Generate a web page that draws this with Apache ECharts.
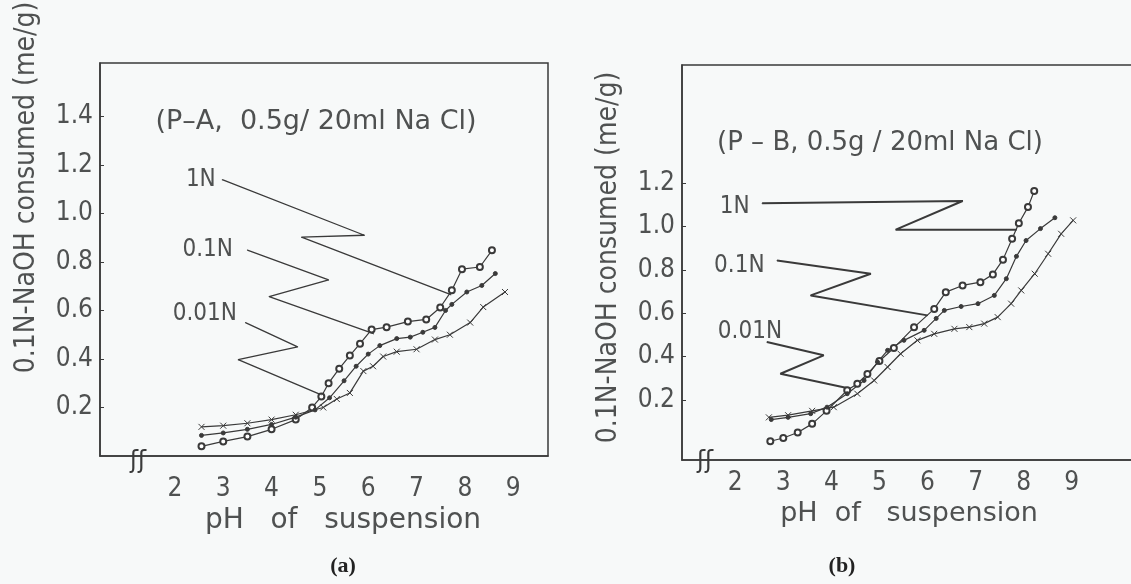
<!DOCTYPE html>
<html>
<head>
<meta charset="utf-8">
<script src="https://cdn.jsdelivr.net/npm/echarts@6/dist/echarts.min.js"></script>
<style>
    html, body { margin: 0; padding: 0; background: #f7f9f9; }
    #chart { width: 1131px; height: 584px; }
</style>
</head>
<body>
<div id="chart"></div>
<script>
// tick labels
const phTicks = [2, 3, 4, 5, 6, 7, 8, 9];
const yTicksA = [0.2, 0.4, 0.6, 0.8, 1.0, 1.2, 1.4];
const yTicksB = [0.2, 0.4, 0.6, 0.8, 1.0, 1.2];

// panel (a) P-A : [pH, me/g]
const a1N = [[2.55, 0.04], [3.0, 0.06], [3.5, 0.08], [4.0, 0.11], [4.5, 0.15], [4.84, 0.20], [5.03, 0.245], [5.18, 0.30], [5.4, 0.36], [5.62, 0.414], [5.83, 0.463], [6.07, 0.521], [6.38, 0.531], [6.82, 0.554], [7.2, 0.563], [7.49, 0.612], [7.73, 0.683], [7.94, 0.77], [8.31, 0.779], [8.56, 0.848]];
const a01N = [[2.55, 0.085], [3.0, 0.095], [3.5, 0.11], [4.0, 0.13], [4.5, 0.16], [4.9, 0.19], [5.2, 0.24], [5.5, 0.31], [5.75, 0.37], [6.0, 0.42], [6.24, 0.455], [6.59, 0.484], [6.87, 0.49], [7.13, 0.51], [7.38, 0.53], [7.6, 0.6], [7.73, 0.625], [8.04, 0.676], [8.35, 0.703], [8.63, 0.752]];
const a001N = [[2.55, 0.12], [3.0, 0.125], [3.5, 0.135], [4.0, 0.15], [4.5, 0.17], [5.07, 0.20], [5.35, 0.235], [5.62, 0.26], [5.9, 0.35], [6.1, 0.37], [6.31, 0.41], [6.59, 0.43], [7.0, 0.44], [7.38, 0.48], [7.69, 0.50], [8.11, 0.55], [8.38, 0.614], [8.83, 0.676]];

// panel (b) P-B
const b1N = [[2.73, 0.01], [3.0, 0.025], [3.3, 0.05], [3.6, 0.09], [3.9, 0.15], [4.33, 0.245], [4.54, 0.275], [4.75, 0.32], [5.0, 0.38], [5.3, 0.44], [5.72, 0.535], [6.14, 0.62], [6.38, 0.697], [6.73, 0.728], [7.1, 0.743], [7.36, 0.779], [7.57, 0.847], [7.76, 0.943], [7.9, 1.015], [8.09, 1.089], [8.22, 1.163]];
const b01N = [[2.75, 0.11], [3.1, 0.12], [3.57, 0.137], [3.91, 0.167], [4.33, 0.229], [4.68, 0.29], [4.96, 0.375], [5.17, 0.429], [5.51, 0.475], [5.93, 0.521], [6.18, 0.576], [6.35, 0.613], [6.7, 0.631], [7.05, 0.644], [7.39, 0.682], [7.64, 0.759], [7.85, 0.862], [8.05, 0.935], [8.35, 0.99], [8.65, 1.04]];
const b001N = [[2.7, 0.12], [3.1, 0.13], [3.6, 0.15], [4.05, 0.167], [4.54, 0.229], [4.89, 0.29], [5.17, 0.352], [5.44, 0.413], [5.79, 0.475], [6.14, 0.505], [6.56, 0.528], [6.87, 0.536], [7.18, 0.552], [7.46, 0.582], [7.74, 0.644], [7.95, 0.705], [8.23, 0.782], [8.51, 0.874], [8.78, 0.966], [9.03, 1.028]];

// zigzag leader lines from the curve labels
const leadA1N = [[2.98, 1.139], [5.92, 0.91], [4.62, 0.902], [7.71, 0.665]];
const leadA01N = [[3.5, 0.849], [5.18, 0.726], [3.95, 0.657], [6.11, 0.504]];
const leadA001N = [[3.46, 0.55], [4.54, 0.45], [3.31, 0.397], [5.03, 0.252]];
const leadB1N = [[2.56, 1.107], [6.73, 1.117], [5.34, 0.985], [7.85, 0.985]];
const leadB01N = [[2.87, 0.843], [4.82, 0.782], [3.57, 0.682], [6.0, 0.59]];
const leadB001N = [[2.66, 0.467], [3.84, 0.406], [2.94, 0.321], [4.4, 0.252]];

const INK = '#3a3a3a';
const TEXT = '#4f5151';
const FONT = '"DejaVu Sans Condensed", "Liberation Sans Narrow", Roboto, sans-serif';
const WIDE = '"DejaVu Sans", sans-serif';
const CROSS = 'path://M0,0L10,10M10,0L0,10';

const chart = echarts.init(document.getElementById('chart'));

function curve(data, gi, kind) {
    const s = {
        type: 'line',
        xAxisIndex: gi,
        yAxisIndex: gi,
        data: data,
        silent: true,
        lineStyle: {color: INK, width: 1.2},
        itemStyle: {color: INK, borderColor: INK, borderWidth: 1},
    };
    if (kind === 'o') {
        s.symbol = 'emptyCircle';
        s.symbolSize = 6;
        s.itemStyle = {color: INK, borderWidth: 1};
    } else if (kind === '.') {
        s.symbol = 'circle';
        s.symbolSize = 4;
    } else {
        s.symbol = CROSS;
        s.symbolSize = 6;
    }
    return s;
}

function leader(pts, text, gi, lab) {
    return {
        type: 'line',
        xAxisIndex: gi,
        yAxisIndex: gi,
        silent: true,
        symbol: 'circle',
        symbolSize: 1,
        itemStyle: {color: INK},
        lineStyle: {color: INK, width: gi === 0 ? 1.3 : 2},
        data: pts.map((p, i) => i === 0 ? {
            value: p,
            label: Object.assign({
                show: true, formatter: text, fontSize: 24, fontFamily: FONT, color: TEXT,
            }, lab),
        } : p),
    };
}

function xAxis(gi, min, max, gap, name, size, pad) {
    return {
        type: 'value',
        gridIndex: gi,
        min: min,
        max: max,
        axisLine: {show: true, onZero: false, lineStyle: {color: INK, width: 1.5}},
        axisTick: {show: false},
        splitLine: {show: false},
        axisLabel: {customValues: phTicks, margin: gi === 0 ? 20 : 10, fontSize: 26, fontFamily: FONT, color: TEXT},
        name: name,
        nameLocation: 'middle',
        nameGap: gap,
        nameTextStyle: {fontSize: size, fontFamily: WIDE, color: TEXT, padding: pad},
    };
}

function yAxis(gi, min, max, ticks, pad) {
    return {
        type: 'value',
        gridIndex: gi,
        min: min,
        max: max,
        axisLine: {show: true, onZero: false, lineStyle: {color: INK, width: 1.5}},
        axisTick: {show: true, inside: true, length: 4, customValues: ticks, lineStyle: {color: INK}},
        splitLine: {show: false},
        axisLabel: {customValues: ticks, formatter: (v) => v.toFixed(1), margin: 7, fontSize: 26, fontFamily: FONT, color: TEXT},
        name: '0.1N-NaOH consumed (me/g)',
        nameLocation: 'middle',
        nameGap: 59,
        nameRotate: 90,
        nameTextStyle: {fontSize: 28, fontFamily: FONT, color: TEXT, padding: pad},
    };
}

function txt(x, y, text, size, extra) {
    return {
        type: 'text', x: x, y: y, silent: true,
        style: Object.assign({
            text: text, fontSize: size, fontFamily: FONT, fill: TEXT, align: 'center', verticalAlign: 'middle',
        }, extra || {}),
    };
}

const option = {
    animation: false,
    backgroundColor: '#f7f9f9',
    grid: [
        {left: 100, top: 63, width: 448, height: 393, outerBoundsMode: 'none', show: true, borderColor: INK, borderWidth: 1.5},
        {left: 682, top: 65, width: 470, height: 395, outerBoundsMode: 'none', show: true, borderColor: INK, borderWidth: 1.5},
    ],
    xAxis: [
        xAxis(0, 0.45, 9.72, 44, 'pH   of   suspension', 28, [0, 0, 0, 38]),
        xAxis(1, 0.893, 10.67, 32, 'pH  of   suspension', 27, [0, 16, 0, 0]),
    ],
    yAxis: [
        yAxis(0, 0, 1.62, yTicksA, [0, 0, 0, 144]),
        yAxis(1, -0.0765, 1.744, yTicksB, [0, 0, 0, 10]),
    ],
    graphic: [
        txt(316, 122, '(P–A,  0.5g/ 20ml Na Cl)', 27, {fontFamily: WIDE}),
        txt(880, 143, '(P – B, 0.5g / 20ml Na Cl)', 26, {fontFamily: WIDE}),
        txt(343, 566, '(a)', 22, {fontFamily: '"Liberation Serif", serif', fontWeight: 'bold', fill: '#222'}),
        txt(842, 566, '(b)', 22, {fontFamily: '"Liberation Serif", serif', fontWeight: 'bold', fill: '#222'}),
        txt(138, 462, 'ʃʃ', 24, {fill: INK, fontFamily: WIDE}),
        txt(705, 462, 'ʃʃ', 24, {fill: INK, fontFamily: WIDE}),
    ],
    series: [
        curve(a1N, 0, 'o'),
        curve(a01N, 0, '.'),
        curve(a001N, 0, 'x'),
        curve(b1N, 1, 'o'),
        curve(b01N, 1, '.'),
        curve(b001N, 1, 'x'),
        leader(leadA1N, '1N', 0, {position: 'left', distance: 6}),
        leader(leadA01N, '0.1N', 0, {position: 'left', distance: 14}),
        leader(leadA001N, '0.01N', 0, {position: 'left', distance: 8, offset: [0, -9]}),
        leader(leadB1N, '1N', 1, {position: 'left', distance: 12, offset: [0, 4]}),
        leader(leadB01N, '0.1N', 1, {position: 'left', distance: 12, offset: [0, 5]}),
        leader(leadB001N, '0.01N', 1, {position: 'top', distance: 0, offset: [-17, 2]}),
    ],
};

chart.setOption(option);
</script>
</body>
</html>
